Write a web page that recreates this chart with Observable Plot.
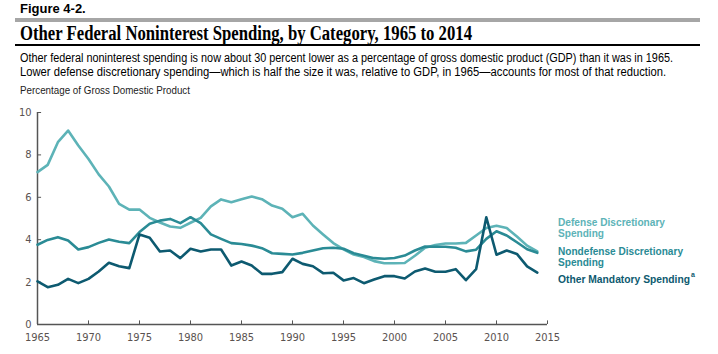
<!DOCTYPE html>
<html><head><meta charset="utf-8">
<script src="https://cdn.jsdelivr.net/npm/d3@7"></script>
<script src="https://cdn.jsdelivr.net/npm/@observablehq/plot@0.6"></script>
<style>
html,body{margin:0;padding:0;background:#fff;}
#page{position:relative;width:718px;height:354px;overflow:hidden;font-family:"Liberation Sans",Arial,sans-serif;}
.abs{position:absolute;white-space:nowrap;}
.fit{display:inline-block;transform-origin:0 0;white-space:nowrap;}
#fig{left:20px;top:1px;font-family:"Liberation Sans",Arial,sans-serif;font-weight:900;font-size:13px;color:#000;}
#bar{left:15px;top:18px;width:685px;height:4px;background:#a6a6a6;}
#title{left:20px;top:22px;font-family:"Liberation Serif",serif;font-weight:bold;font-size:20px;color:#000;}
#rule{left:15px;top:44px;width:685px;height:1.5px;background:#000;}
#sub{left:20px;top:51px;font-size:12.5px;line-height:14px;color:#000;}
#ylab{left:20px;top:84px;font-size:10.5px;color:#222;}
#chart{position:absolute;left:0;top:100px;}
.leg{position:absolute;left:558px;font-weight:bold;font-size:11.5px;line-height:10.5px;white-space:nowrap;}
</style></head>
<body><div id="page">
<div id="fig" class="abs">Figure 4-2.</div>
<div id="bar" class="abs"></div>
<div id="title" class="abs"><span class="fit" data-w="452">Other Federal Noninterest Spending, by Category, 1965 to 2014</span></div>
<div id="rule" class="abs"></div>
<div id="sub" class="abs"><span class="fit" data-w="653">Other federal noninterest spending is now about 30 percent lower as a percentage of gross domestic product (GDP) than it was in 1965.</span><br><span class="fit" data-w="646">Lower defense discretionary spending—which is half the size it was, relative to GDP, in 1965—accounts for most of that reduction.</span></div>
<div id="ylab" class="abs"><span class="fit" data-w="170">Percentage of Gross Domestic Product</span></div>
<div id="chart"></div>
</div>
<script>
const years = d3.range(1965, 2015);
const defense = [7.19,7.53,8.6,9.15,8.44,7.81,7.08,6.51,5.69,5.42,
  5.42,5.03,4.81,4.62,4.56,4.8,5.03,5.57,5.9,5.77,
  5.91,6.04,5.91,5.61,5.46,5.06,5.22,4.67,4.25,3.84,
  3.54,3.3,3.18,2.99,2.89,2.89,2.9,3.24,3.62,3.75,
  3.82,3.82,3.85,4.2,4.55,4.66,4.55,4.15,3.72,3.45];
const nondefense = [3.76,3.99,4.12,3.96,3.54,3.65,3.85,4.01,3.9,3.84,
  4.36,4.75,4.9,4.98,4.78,5.06,4.78,4.25,4.04,3.84,
  3.8,3.72,3.6,3.36,3.33,3.3,3.38,3.49,3.6,3.62,
  3.57,3.36,3.24,3.13,3.1,3.14,3.25,3.49,3.68,3.67,
  3.67,3.62,3.45,3.53,4.04,4.4,4.2,3.88,3.55,3.38];
const otherMandatory = [2.03,1.76,1.87,2.15,1.95,2.15,2.5,2.91,2.75,2.66,
  4.25,4.09,3.44,3.49,3.13,3.57,3.44,3.54,3.54,2.78,
  2.97,2.78,2.39,2.39,2.47,3.1,2.86,2.75,2.42,2.44,
  2.08,2.19,1.95,2.12,2.28,2.28,2.17,2.5,2.64,2.49,
  2.49,2.61,2.09,2.61,5.06,3.29,3.49,3.33,2.74,2.45];
const seriesNames = ["Defense Discretionary Spending", "Nondefense Discretionary Spending", "Other Mandatory Spending"];
const seriesLegend = [["Defense Discretionary", "Spending"], ["Nondefense Discretionary", "Spending"], ["Other Mandatory Spending"]];
const legendWidths = [[107, 46], [125, 46], [132]];
const colors = ["#5db3b7", "#2a8b95", "#0d5a70"];
const xTicks = d3.range(1965, 2016, 5);
const yTicks = [0, 2, 4, 6, 8, 10];

const rows = [];
[defense, nondefense, otherMandatory].forEach((arr, i) => arr.forEach((v, j) => rows.push({series: seriesNames[i], year: years[j], value: v})));

const axisColor = "#555";
const chart = Plot.plot({
  width: 718, height: 254,
  marginLeft: 37, marginRight: 171, marginTop: 12, marginBottom: 30,
  style: {fontFamily: "'DejaVu Sans Condensed',sans-serif", fontSize: "11px", color: "#5a5250", background: "white"},
  x: {domain: [1965, 2015]},
  y: {domain: [0, 10]},
  color: {domain: seriesNames, range: colors},
  marks: [
    Plot.axisY(yTicks, {tickSize: 0, tickPadding: 6, label: null, tickFormat: d => d}),
    Plot.ruleY(yTicks, {y: d => d, x1: 1965, x2: 1965.4, stroke: axisColor}),
    Plot.axisX(xTicks, {tickSize: 0, tickPadding: 9, label: null, tickFormat: d => String(d)}),
    Plot.ruleX(xTicks, {x: d => d, y1: 0, y2: 0.17, stroke: axisColor}),
    Plot.ruleX([1965], {stroke: axisColor, strokeWidth: 1.5}),
    Plot.ruleY([0], {stroke: axisColor, strokeWidth: 1.5}),
    Plot.line(rows, {x: "year", y: "value", z: "series", stroke: "series", strokeWidth: 2.6, strokeLinejoin: "round"})
  ]
});
document.getElementById("chart").appendChild(chart);

const legTops = [217, 246, 274];
seriesLegend.forEach((lines, i) => {
  const d = document.createElement("div");
  d.className = "leg";
  d.style.top = legTops[i] + "px";
  d.style.color = colors[i];
  d.innerHTML = lines.map((t, k) => `<span class="fit" data-w="${legendWidths[i][k]}">${t}</span>` + (i === 2 ? "<sup style='font-size:7px'>a</sup>" : "")).join("<br>");
  document.getElementById("page").appendChild(d);
});
// fit text spans to the widths measured on the reference
document.querySelectorAll(".fit").forEach(el => {
  const w = el.getBoundingClientRect().width;
  const t = +el.dataset.w;
  el.style.transform = `scaleX(${t / w})`;
  el.style.width = w + "px";
});
document.querySelectorAll(".leg sup").forEach(s => {
  const span = s.previousElementSibling;
  s.style.position = "absolute";
  s.style.left = (+span.dataset.w + 1) + "px";
  s.style.top = "-4px";
});
</script>
</body></html>
